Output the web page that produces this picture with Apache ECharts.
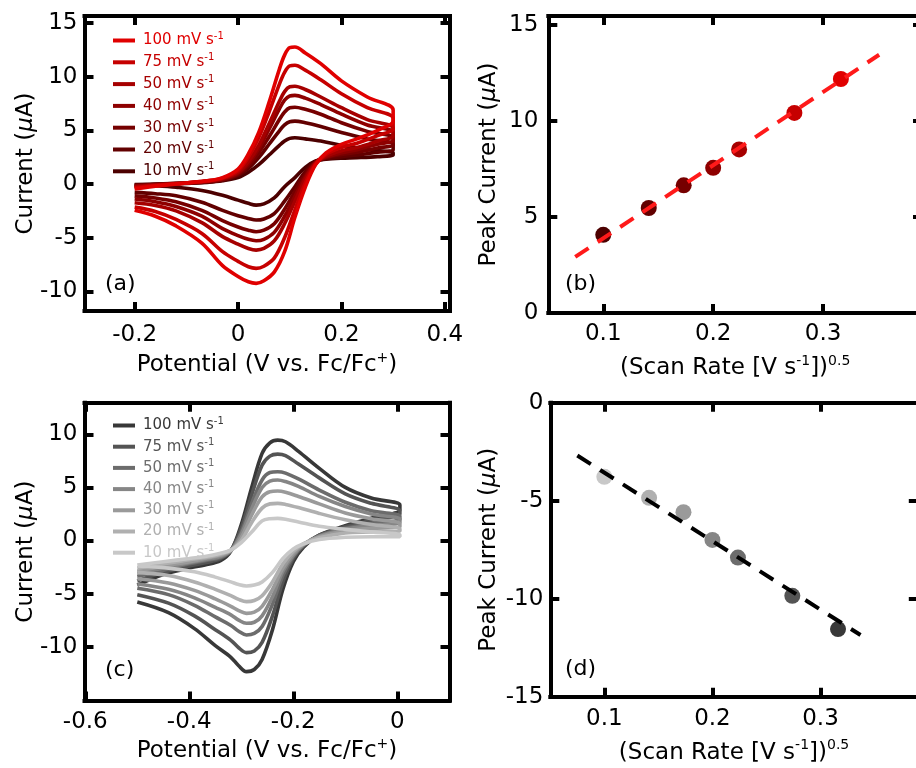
<!DOCTYPE html>
<html><head><meta charset="utf-8">
<script src="https://cdn.jsdelivr.net/npm/echarts@6/dist/echarts.min.js"></script>
<style>html,body{margin:0;padding:0;background:#fff}#c{width:916px;height:768px}</style>
</head><body><div id="c"></div><script>
// ---------- data ----------
const rates = ['100', '75', '50', '40', '30', '20', '10'];
const redColors = ['#e00000', '#c60000', '#a60000', '#8e0000', '#760000', '#620000', '#4c0000'];
const greyColors = ['#383838', '#545454', '#6c6c6c', '#868686', '#9a9a9a', '#b0b0b0', '#c8c8c8'];

// panel (a): forward scan potentials and currents (rows: 100,75,50,40,30,20,10 mV/s)
const aFwdE = [-0.2, -0.15, -0.1, -0.06, -0.03, 0.0, 0.02, 0.04, 0.06, 0.08, 0.09, 0.1, 0.11, 0.13, 0.16, 0.2, 0.25, 0.3];
const aFwd = [
  [-0.45, -0.15, 0.1, 0.3, 0.6, 1.4, 2.8, 4.8, 7.6, 10.7, 12.0, 12.7, 12.75, 12.2, 11.2, 9.6, 8.1, 6.9],
  [-0.35, -0.1, 0.1, 0.3, 0.55, 1.25, 2.5, 4.3, 6.7, 9.3, 10.4, 11.0, 11.05, 10.6, 9.7, 8.4, 7.1, 6.1],
  [-0.25, -0.05, 0.1, 0.25, 0.5, 1.1, 2.1, 3.6, 5.6, 7.7, 8.6, 9.05, 9.1, 8.8, 8.1, 7.1, 6.0, 5.2],
  [-0.2, -0.05, 0.1, 0.25, 0.45, 1.0, 1.9, 3.3, 5.1, 7.0, 7.8, 8.2, 8.25, 8.0, 7.4, 6.5, 5.5, 4.8],
  [-0.15, 0.0, 0.1, 0.2, 0.4, 0.9, 1.7, 2.9, 4.4, 6.0, 6.7, 7.1, 7.15, 6.95, 6.5, 5.7, 4.9, 4.3],
  [-0.1, 0.0, 0.1, 0.2, 0.35, 0.8, 1.45, 2.45, 3.7, 4.95, 5.5, 5.8, 5.85, 5.7, 5.35, 4.8, 4.2, 3.7],
  [-0.05, 0.0, 0.05, 0.15, 0.3, 0.6, 1.1, 1.8, 2.7, 3.6, 4.0, 4.25, 4.3, 4.2, 4.0, 3.6, 3.2, 2.9]
];
// panel (a): reverse scan
const aRevE = [0.3, 0.27, 0.23, 0.2, 0.17, 0.15, 0.13, 0.11, 0.09, 0.07, 0.05, 0.035, 0.02, 0.0, -0.03, -0.07, -0.12, -0.16, -0.2];
const aRev = [
  [5.9, 5.0, 4.2, 3.7, 2.9, 1.8, -0.3, -3.1, -6.3, -8.2, -9.0, -9.25, -9.1, -8.6, -7.6, -5.5, -3.9, -3.0, -2.45],
  [5.2, 4.5, 3.8, 3.4, 2.75, 1.85, 0.1, -2.4, -5.0, -6.9, -7.65, -7.85, -7.7, -7.2, -6.3, -4.6, -3.3, -2.55, -2.15],
  [4.5, 4.0, 3.4, 3.1, 2.6, 1.95, 0.45, -1.6, -3.7, -5.3, -6.0, -6.15, -6.0, -5.6, -4.9, -3.6, -2.5, -2.0, -1.75],
  [4.1, 3.7, 3.2, 2.9, 2.5, 2.0, 0.65, -1.15, -3.0, -4.5, -5.15, -5.28, -5.15, -4.8, -4.15, -3.0, -2.1, -1.65, -1.4],
  [3.7, 3.35, 2.95, 2.75, 2.45, 2.05, 0.9, -0.7, -2.35, -3.7, -4.3, -4.44, -4.3, -4.0, -3.4, -2.45, -1.65, -1.3, -1.1],
  [3.2, 2.95, 2.7, 2.55, 2.35, 2.1, 1.15, -0.25, -1.6, -2.75, -3.25, -3.35, -3.2, -2.95, -2.45, -1.7, -1.1, -0.9, -0.78],
  [2.7, 2.55, 2.45, 2.4, 2.3, 2.15, 1.55, 0.6, -0.25, -1.3, -1.85, -1.96, -1.8, -1.5, -1.05, -0.6, -0.3, -0.15, -0.05]
];

// panel (c): forward scan
const cFwdE = [-0.5, -0.45, -0.4, -0.37, -0.34, -0.32, -0.3, -0.28, -0.26, -0.245, -0.23, -0.215, -0.19, -0.15, -0.1, -0.05, 0.005];
const cFwd = [
  [-4.2, -3.2, -2.6, -2.3, -1.9, -1.0, 1.5, 5.0, 8.2, 9.2, 9.45, 9.3, 8.4, 6.8, 5.0, 4.0, 3.35],
  [-3.8, -3.0, -2.4, -2.1, -1.7, -0.95, 1.2, 4.3, 7.1, 7.95, 8.14, 8.0, 7.2, 5.9, 4.4, 3.5, 2.8],
  [-3.4, -2.8, -2.2, -1.9, -1.6, -0.95, 0.8, 3.5, 5.7, 6.4, 6.48, 6.35, 5.8, 4.75, 3.6, 2.8, 2.3],
  [-3.1, -2.6, -2.1, -1.8, -1.5, -0.95, 0.6, 3.0, 5.0, 5.6, 5.7, 5.55, 5.1, 4.15, 3.2, 2.5, 2.0],
  [-2.9, -2.4, -2.0, -1.7, -1.4, -0.95, 0.3, 2.4, 4.1, 4.6, 4.66, 4.55, 4.15, 3.45, 2.6, 2.05, 1.6],
  [-2.6, -2.2, -1.8, -1.6, -1.3, -0.9, 0.0, 1.7, 3.05, 3.45, 3.5, 3.4, 3.1, 2.55, 1.95, 1.5, 1.1],
  [-2.3, -2.0, -1.7, -1.5, -1.2, -0.9, -0.2, 0.8, 1.85, 2.05, 2.08, 2.0, 1.75, 1.35, 1.05, 0.8, 0.55]
];
// panel (c): reverse scan
const cRevE = [0.005, -0.05, -0.1, -0.15, -0.18, -0.2, -0.22, -0.24, -0.26, -0.275, -0.29, -0.305, -0.32, -0.35, -0.39, -0.44, -0.5];
const cRev = [
  [2.9, 2.1, 1.4, 0.5, -0.6, -2.0, -4.6, -8.4, -11.2, -12.15, -12.35, -11.8, -11.0, -9.9, -8.3, -6.8, -5.8],
  [2.5, 1.9, 1.3, 0.5, -0.5, -1.7, -3.9, -7.1, -9.6, -10.4, -10.56, -10.1, -9.4, -8.4, -7.1, -5.9, -5.1],
  [2.0, 1.6, 1.15, 0.45, -0.4, -1.5, -3.3, -6.0, -8.1, -8.75, -8.9, -8.55, -8.0, -7.2, -6.1, -5.1, -4.5],
  [1.7, 1.4, 1.05, 0.4, -0.4, -1.4, -2.9, -5.3, -7.1, -7.7, -7.8, -7.5, -7.0, -6.3, -5.4, -4.6, -4.1],
  [1.3, 1.15, 0.9, 0.35, -0.35, -1.2, -2.6, -4.6, -6.2, -6.75, -6.86, -6.6, -6.2, -5.5, -4.7, -4.0, -3.6],
  [0.9, 0.8, 0.7, 0.25, -0.3, -1.0, -2.2, -3.9, -5.2, -5.65, -5.76, -5.55, -5.2, -4.6, -3.9, -3.3, -3.0],
  [0.35, 0.35, 0.3, 0.1, -0.3, -0.8, -1.7, -3.0, -3.9, -4.2, -4.28, -4.15, -3.9, -3.45, -2.95, -2.6, -2.4]
];

// panels (b),(d): (scan rate)^0.5 and peak currents, ordered 10,20,30,40,50,75,100 mV/s
const sqrtRate = [0.1, 0.1414, 0.1732, 0.2, 0.2236, 0.2739, 0.3162];
const peakB = [4.07, 5.47, 6.65, 7.56, 8.52, 10.42, 12.19];
const peakD = [-3.78, -4.85, -5.58, -7.0, -7.9, -9.85, -11.55];
const fitB = [[0.0745, 2.92], [0.351, 13.45]];
const fitD = [[0.075, -2.69], [0.337, -11.85]];

// tick values
const aXTicks = [-0.2, 0, 0.2, 0.4], aYTicks = [-10, -5, 0, 5, 10, 15];
const bXTicks = [0.1, 0.2, 0.3], bYTicks = [0, 5, 10, 15];
const cXTicks = [-0.6, -0.4, -0.2, 0], cYTicks = [-10, -5, 0, 5, 10];
const dXTicks = [0.1, 0.2, 0.3], dYTicks = [-15, -10, -5, 0];

// ---------- chart ----------
const FF = '"DejaVu Sans", sans-serif';
const chart = echarts.init(document.getElementById('c'), null, {renderer: 'canvas'});

const grids = [
  {left: 84.5, top: 16, width: 365, height: 295},
  {left: 548.3, top: 16, width: 373.7, height: 297},
  {left: 84.5, top: 402.8, width: 365, height: 297.7},
  {left: 550.3, top: 402.8, width: 367.5, height: 293.9}
].map(g => Object.assign({outerBoundsMode: 'none', containLabel: false}, g));

const axisLine = {show: true, onZero: false, lineStyle: {color: '#000', width: 4, cap: 'square'}};
const fmt = v => String(+(+v).toFixed(2));
const nameRich = {
  n: {fontSize: 23, fontFamily: FF, color: '#000'},
  m: {fontSize: 23, fontFamily: FF, color: '#000', fontStyle: 'italic'},
  s: {fontSize: 14, fontFamily: FF, color: '#000', padding: [0, 0, 14, 0]}
};
const xAxes = [], yAxes = [];
function addAxes(g, xr, yr, xt, yt, xm, ym, xName, yName, xGap, yGap) {
  const tick = t => ({show: true, inside: true, length: 9, lineStyle: {color: '#000', width: 4}, customValues: t});
  const lab = (t, m) => ({show: true, customValues: t, margin: m, fontSize: 23, fontFamily: FF, color: '#000', formatter: fmt});
  const common = {type: 'value', gridIndex: g, splitLine: {show: false}, axisLine: axisLine, nameMoveOverlap: false};
  xAxes.push(Object.assign({}, common, {position: 'bottom', min: xr[0], max: xr[1], axisTick: tick(xt), axisLabel: lab(xt, xm),
    name: xName, nameLocation: 'middle', nameGap: xGap, nameTextStyle: {fontSize: 23, fontFamily: FF, color: '#000', rich: nameRich}}));
  xAxes.push(Object.assign({}, common, {position: 'top', min: xr[0], max: xr[1], axisTick: tick(xt), axisLabel: {show: false}}));
  yAxes.push(Object.assign({}, common, {position: 'left', min: yr[0], max: yr[1], axisTick: tick(yt), axisLabel: lab(yt, ym),
    name: yName, nameLocation: 'middle', nameGap: yGap, nameTextStyle: {fontSize: 23, fontFamily: FF, color: '#000', rich: nameRich}}));
  yAxes.push(Object.assign({}, common, {position: 'right', min: yr[0], max: yr[1], axisTick: tick(yt), axisLabel: {show: false}}));
}
const potName = '{n|Potential (V vs. Fc/Fc}{s|+}{n|)}';
const curName = '{n|Current (}{m|μ}{n|A)}';
const peakName = '{n|Peak Current (}{m|μ}{n|A)}';
const rateName = '{n|(Scan Rate [V s}{s|-1}{n|])}{s|0.5}';
addAxes(0, [-0.297, 0.409], [-11.82, 15.64], aXTicks, aYTicks, 13, 7, potName, curName, 40, 47);
addAxes(1, [0.05, 0.39], [0, 15.47], bXTicks, bYTicks, 10, 10, rateName, peakName, 41, 48);
addAxes(2, [-0.6015, 0.1004], [-15.07, 12.97], cXTicks, cYTicks, 10, 7, potName, curName, 37, 47);
addAxes(3, [0.05, 0.39], [-15, 0], dXTicks, dYTicks, 11, 7, rateName, peakName, 42, 50);

function loop(Ef, f, Er, r) {
  const d = [];
  Ef.forEach((e, k) => d.push([e, f[k]]));
  Er.forEach((e, k) => d.push([e, r[k]]));
  return d;
}
const series = [];
// panel (a): slowest first so the fastest (red) lies on top
for (let i = rates.length - 1; i >= 0; i--) {
  series.push({type: 'line', name: 'a' + rates[i], xAxisIndex: 0, yAxisIndex: 0, data: loop(aFwdE, aFwd[i], aRevE, aRev[i]),
    showSymbol: false, symbol: 'none', smooth: 0.35, lineStyle: {width: 3.6, color: redColors[i]}, itemStyle: {color: redColors[i]}});
}
// panel (c)
for (let i = 0; i < rates.length; i++) {
  series.push({type: 'line', name: 'c' + rates[i], xAxisIndex: 4, yAxisIndex: 4, data: loop(cFwdE, cFwd[i], cRevE, cRev[i]),
    showSymbol: false, symbol: 'none', smooth: 0.35, lineStyle: {width: 3.6, color: greyColors[i]}, itemStyle: {color: greyColors[i]}});
}
// panel (b)
const redAsc = redColors.slice().reverse(), greyAsc = greyColors.slice().reverse();
series.push({type: 'scatter', name: 'bpts', xAxisIndex: 2, yAxisIndex: 2, symbolSize: 16,
  data: sqrtRate.map((x, k) => ({value: [x, peakB[k]], itemStyle: {color: redAsc[k], opacity: 1}}))});
series.push({type: 'line', name: 'bfit', xAxisIndex: 2, yAxisIndex: 2, data: fitB, showSymbol: false, symbol: 'none',
  lineStyle: {width: 4, color: '#ff1a1a', type: [16, 11]}, z: 5});
// panel (d)
series.push({type: 'scatter', name: 'dpts', xAxisIndex: 6, yAxisIndex: 6, symbolSize: 16,
  data: sqrtRate.map((x, k) => ({value: [x, peakD[k]], itemStyle: {color: greyAsc[k], opacity: 1}}))});
series.push({type: 'line', name: 'dfit', xAxisIndex: 6, yAxisIndex: 6, data: fitD, showSymbol: false, symbol: 'none',
  lineStyle: {width: 4, color: '#000', type: [16, 11]}, z: 5});

const legendRich = {
  t: {fontSize: 15, fontFamily: FF, padding: [0, 0, 0, 3]},
  s: {fontSize: 10, fontFamily: FF, padding: [0, 0, 9, 0]}
};
function mkLegend(prefix, colors, left, top, gap) {
  return {orient: 'vertical', left: left, top: top, itemWidth: 22, itemHeight: 4, icon: 'rect', itemGap: gap,
    selectedMode: false, padding: 0,
    data: rates.map((r, i) => ({name: prefix + r, textStyle: {color: colors[i]}})),
    formatter: n => '{t|' + n.slice(1) + ' mV s}{s|-1}',
    textStyle: {fontSize: 15, fontFamily: FF, rich: legendRich}};
}

const panelLabel = (t, x, y) => ({type: 'text', x: x, y: y, style: {text: t, font: '22px "DejaVu Sans"', fill: '#000',
  verticalAlign: 'middle', textVerticalAlign: 'middle'}});

chart.setOption({
  animation: false,
  backgroundColor: '#fff',
  grid: grids,
  xAxis: xAxes,
  yAxis: yAxes,
  legend: [mkLegend('a', redColors, 113, 31, 4.8), mkLegend('c', greyColors, 113, 416, 4.2)],
  series: series,
  graphic: [panelLabel('(a)', 105, 284), panelLabel('(b)', 565, 284), panelLabel('(c)', 105, 670), panelLabel('(d)', 565, 669)]
});
</script></body></html>
